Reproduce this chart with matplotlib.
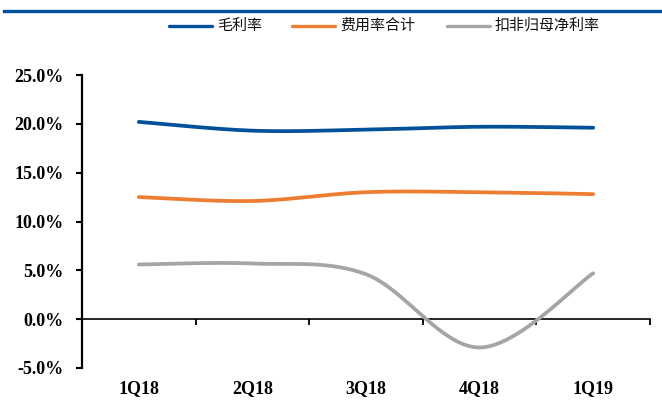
import numpy as np
import matplotlib
matplotlib.use("Agg")
import matplotlib.pyplot as plt
from matplotlib.lines import Line2D
from matplotlib.transforms import blended_transform_factory
from matplotlib.ticker import FuncFormatter
from matplotlib.font_manager import FontProperties

# Quarterly margin data (%)
quarters = ["1Q18", "2Q18", "3Q18", "4Q18", "1Q19"]
gross_margin = [20.2, 19.3, 19.4, 19.7, 19.6]
expense_ratio = [12.5, 12.1, 13.0, 13.0, 12.8]
net_margin_adj = [5.6, 5.7, 4.6, -2.9, 4.7]
series_names = ["毛利率", "费用率合计", "扣非归母净利率"]
series_colors = ["#00519A", "#ED7D31", "#A5A5A5"]


def smooth_curve(xs, ys, n=40):
    """Catmull-Rom style smoothing through every point (cubic Bezier segments)."""
    xs = np.asarray(xs, float)
    ys = np.asarray(ys, float)
    pts = np.column_stack([xs, ys])
    out = []
    for i in range(len(pts) - 1):
        p0 = pts[i - 1] if i > 0 else pts[i]
        p1 = pts[i]
        p2 = pts[i + 1]
        p3 = pts[i + 2] if i + 2 < len(pts) else pts[i + 1]
        c1 = p1 + (p2 - p0) / 6.0
        c2 = p2 - (p3 - p1) / 6.0
        t = np.linspace(0, 1, n)[:, None]
        seg = ((1 - t) ** 3) * p1 + 3 * ((1 - t) ** 2) * t * c1 + 3 * (1 - t) * t ** 2 * c2 + t ** 3 * p2
        out.append(seg if i == 0 else seg[1:])
    seg = np.vstack(out)
    return seg[:, 0], seg[:, 1]


W, H = 662, 412
fig = plt.figure(figsize=(W / 100, H / 100), dpi=100)
ax = fig.add_axes([82 / W, 1 - 368 / H, (650 - 82) / W, (368 - 75) / H])

x = np.arange(len(quarters))
for vals, col in zip([gross_margin, expense_ratio, net_margin_adj], series_colors):
    sx, sy = smooth_curve(x, vals)
    ax.plot(sx, sy, color=col, lw=2.7, solid_capstyle="round", zorder=3)

ax.set_xlim(-0.5, len(quarters) - 0.5)
ax.set_ylim(-5, 25)
ax.set_yticks(np.arange(-5, 25.1, 5))
ax.yaxis.set_major_formatter(FuncFormatter(lambda v, p: f"{v:.1f}%"))

tick_font = dict(family="Liberation Serif", weight="bold", size=13)
for lab in ax.get_yticklabels():
    lab.set_fontproperties(FontProperties(**tick_font))
ax.tick_params(axis="y", direction="out", length=4, width=1.5, pad=9, colors="black")

# category boundary ticks on the zero line
ax.set_xticks(np.arange(0.5, len(quarters), 1.0))
ax.set_xticklabels([])
ax.tick_params(axis="x", direction="out", length=4, width=1.3)

ax.spines["top"].set_visible(False)
ax.spines["right"].set_visible(False)
ax.spines["bottom"].set_position(("data", 0))
ax.spines["bottom"].set_linewidth(1.2)
ax.spines["left"].set_linewidth(1.6)

# category labels along the bottom of the plot
tr = blended_transform_factory(ax.transData, fig.transFigure)
for i, q in enumerate(quarters):
    ax.text(i, 1 - 389 / H, q, transform=tr, ha="center", va="center", **tick_font)

# header rule
fig.add_artist(Line2D([4 / W, 1.0], [1 - 10.5 / H, 1 - 10.5 / H], color="#00519A", lw=2.4))

# legend
leg_y = 1 - 26 / H
leg_items = [(169, 212, 217), (292, 335, 340), (447, 490, 495)]
for (x0, x1, xt), name, col in zip(leg_items, series_names, series_colors):
    fig.add_artist(Line2D([x0 / W, x1 / W], [leg_y, leg_y], color=col, lw=2.4,
                          solid_capstyle="round"))
    fig.text(xt / W, leg_y, name, ha="left", va="center", fontsize=10.8,
             family=["Noto Sans CJK SC", "DejaVu Sans"], color="#111111")

fig.savefig("out.png", dpi=100)
